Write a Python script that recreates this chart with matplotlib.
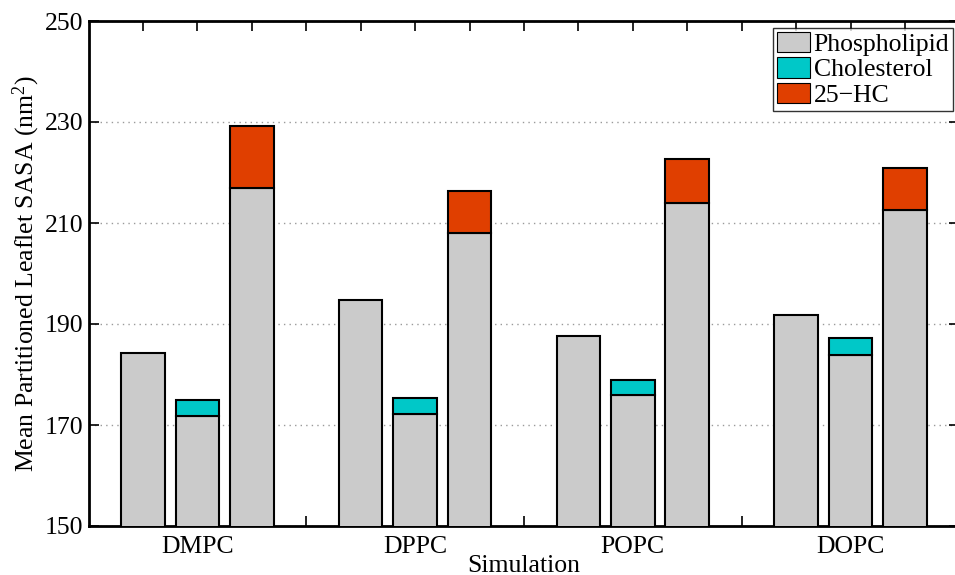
import matplotlib
matplotlib.use("Agg")
import matplotlib.pyplot as plt
from matplotlib.patches import Patch

plt.rcParams['font.family'] = ['Liberation Serif', 'DejaVu Serif']
plt.rcParams['mathtext.fontset'] = 'custom'
plt.rcParams['mathtext.rm'] = 'Liberation Serif'
plt.rcParams['mathtext.it'] = 'Liberation Serif:italic'

# Mean partitioned leaflet SASA (nm^2) per membrane system
simulations = ["DMPC", "DPPC", "POPC", "DOPC"]
pure_phospholipid = [184.2, 194.7, 187.6, 191.8]
chol_phospholipid = [171.8, 172.2, 175.9, 183.9]
chol_cholesterol = [3.15, 3.1, 3.0, 3.4]
hc_phospholipid = [217.0, 208.0, 213.9, 212.6]
hc_25hc = [12.3, 8.3, 8.7, 8.35]
legend_labels = ["Phospholipid", "Cholesterol", "25\u2212HC"]
y_ticks = [150, 170, 190, 210, 230, 250]

c_pl = "#cbcbcb"
c_chol = "#00c8c8"
c_hc = "#e03f00"

W, H = 955, 575
fig = plt.figure(figsize=(W / 100, H / 100), dpi=100)
left, right, top, bottom = 88.5, 959.4, 21, 526
ax = fig.add_axes([left / W, 1 - bottom / H, (right - left) / W, (bottom - top) / H])

fs = 18.5
bw = 0.8
ekw = dict(edgecolor="black", linewidth=1.5, width=bw, zorder=3)
centers = [2 + 4 * i for i in range(len(simulations))]
for i, c in enumerate(centers):
    ax.bar(c - 1, pure_phospholipid[i], color=c_pl, **ekw)
    ax.bar(c, chol_phospholipid[i], color=c_pl, **ekw)
    ax.bar(c, chol_cholesterol[i], bottom=chol_phospholipid[i], color=c_chol, **ekw)
    ax.bar(c + 1, hc_phospholipid[i], color=c_pl, **ekw)
    ax.bar(c + 1, hc_25hc[i], bottom=hc_phospholipid[i], color=c_hc, **ekw)

ax.set_xlim(0, 16)
ax.set_ylim(150, 250)
ax.set_yticks(y_ticks)
ax.set_yticklabels([str(v) for v in y_ticks], fontsize=fs)
ax.set_xticks(range(1, 16))
ax.set_xticklabels([simulations[(k - 2) // 4] if (k - 2) % 4 == 0 else "" for k in range(1, 16)],
                   fontsize=fs)
ax.tick_params(direction="in", length=7, width=1.2, top=True, right=True)
ax.tick_params(axis="y", pad=3.5)
ax.tick_params(axis="x", pad=7)
ax.yaxis.grid(True, linestyle=(0, (1, 3)), color="#9a9a9a", linewidth=1.0, zorder=0)
ax.set_axisbelow(True)
for s in ax.spines.values():
    s.set_linewidth(2.0)

ax.set_xlabel("Simulation", fontsize=fs, labelpad=-2)
ax.set_ylabel(r"Mean Partitioned Leaflet SASA (nm$^2$)", fontsize=fs, labelpad=2)

handles = [Patch(facecolor=c, edgecolor="black", linewidth=0.8) for c in (c_pl, c_chol, c_hc)]
leg = fig.legend(handles, legend_labels, loc="upper right",
                 bbox_to_anchor=(953 / W, 1 - 28 / H), bbox_transform=fig.transFigure,
                 fontsize=fs, frameon=True, fancybox=False, borderaxespad=0,
                 handlelength=1.3, handleheight=0.85, handletextpad=0.12,
                 labelspacing=0.05, borderpad=0.15)
leg.get_frame().set_edgecolor("black")
leg.get_frame().set_linewidth(1.0)

fig.savefig("out.png", dpi=100)
